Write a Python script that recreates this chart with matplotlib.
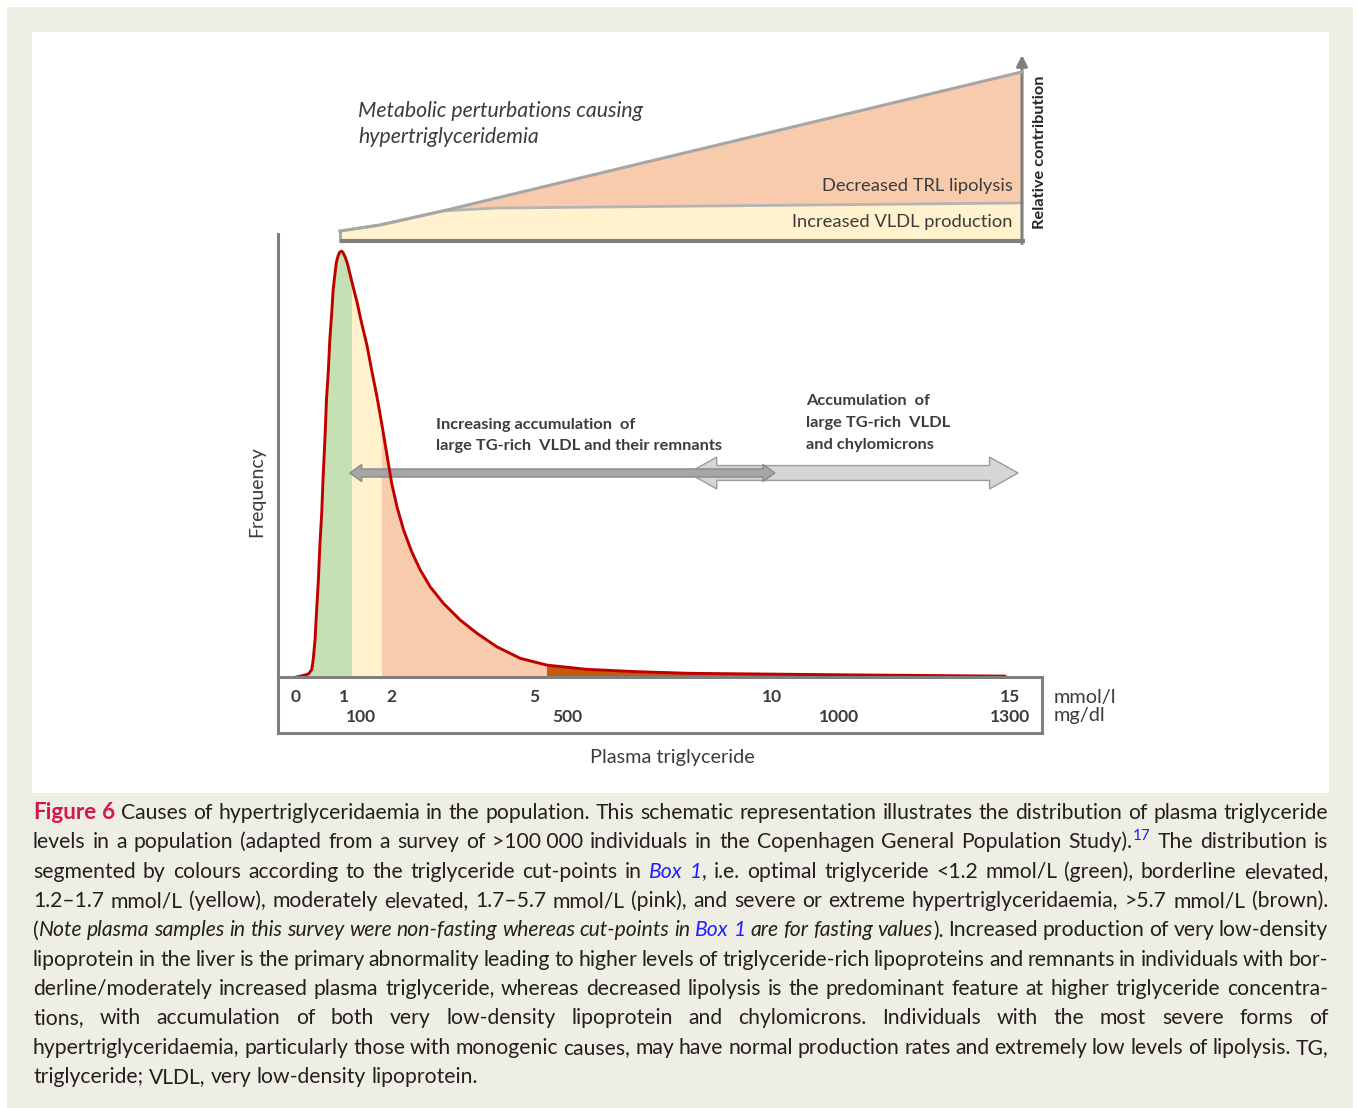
import matplotlib
matplotlib.use('Agg')
import matplotlib.pyplot as plt
from matplotlib.patches import Rectangle, Polygon

plt.rcParams['font.family'] = ['Lato', 'DejaVu Sans']

W, H = 1358, 1108

# distribution of plasma TG (mmol/l) vs relative frequency (peak = 100)
tg_mmol = [0, 0.10, 0.26, 0.33, 0.36, 0.40, 0.43, 0.47, 0.50, 0.54, 0.57, 0.61,
           0.64, 0.68, 0.71, 0.75, 0.78, 0.82, 0.85, 0.89, 0.92, 0.96, 0.99,
           1.03, 1.08, 1.13, 1.20, 1.28, 1.38, 1.49, 1.59, 1.70, 1.80, 1.87,
           1.94, 2.01, 2.12, 2.26, 2.43, 2.61, 2.82, 3.10, 3.45, 3.80, 4.22,
           4.71, 5.27, 6.11, 7.16, 8.28, 11.6, 14.9]
freq = [0, 0.2, 0.7, 1.7, 4.0, 8.7, 15.0, 22.8, 30.7, 38.5, 47.1, 56.5,
        65.2, 72.2, 79.3, 85.6, 91.1, 95.0, 97.7, 99.3, 100, 100.2, 99.8,
        98.9, 97.3, 95.0, 91.8, 88.3, 83.2, 78.1, 72.2, 66.0, 59.7, 55.0,
        50.3, 45.6, 40.1, 34.6, 29.5, 25.2, 21.2, 17.3, 13.4, 10.3, 7.1,
        4.4, 2.8, 1.8, 1.25, 0.86, 0.5, 0.2]

# colour bands (cut-points as drawn, mmol/l)
band_edges = [0, 1.17, 1.80, 5.27, 15.0]
band_colors = ['#c5e0b3', '#fff2cc', '#f8cbad', '#c55a11']

# axis labels inside the box
mmol_ticks = [0, 1, 2, 5, 10, 15]
mgdl_labels = ['100', '500', '1000', '1300']
mgdl_pos = [1.37, 5.7, 11.4, 15.0]

# top schematic: relative contribution along TG axis (0..1)
top_x = [0, 0.059, 0.151, 1.0]
top_y = [5.9, 9.5, 17.8, 100]
vldl_x = [0, 0.059, 0.151, 0.230, 1.0]
vldl_y = [5.9, 9.5, 17.8, 19.5, 22.5]

txt = '#3c3c3c'
gray = '#7f7f7f'


def fx(x):
    return x / W


def fy(y):
    return 1 - y / H


fig = plt.figure(figsize=(W / 100, H / 100), dpi=100)
fig.patch.set_facecolor('white')
fig.patches.append(Rectangle((fx(7), 0), fx(1353) - fx(7), fy(7), transform=fig.transFigure,
                             facecolor='#efeee4', edgecolor='none', zorder=-10))
fig.patches.append(Rectangle((fx(32), fy(793)), fx(1329) - fx(32), fy(32) - fy(793),
                             transform=fig.transFigure, facecolor='white', edgecolor='none', zorder=-9))

# ---- main distribution plot
xlim = ((278 - 296) / 47.6, (1042 - 296) / 47.6)
ax = fig.add_axes([fx(278), fy(677), (1042 - 278) / W, (677 - 234) / H])
ax.set_xlim(xlim)
ax.set_ylim(0, (677 - 234) / 4.25)
ax.patch.set_alpha(0)
for s in ['top', 'right', 'bottom']:
    ax.spines[s].set_visible(False)
ax.spines['left'].set_color(gray)
ax.spines['left'].set_linewidth(2.2)
ax.set_xticks([])
ax.set_yticks([])

for lo, hi, c in zip(band_edges[:-1], band_edges[1:], band_colors):
    poly = ax.fill_between(tg_mmol, 0, freq, color=c, lw=0, zorder=1)
    clip = Rectangle((lo, 0), hi - lo, 200, transform=ax.transData)
    poly.set_clip_path(clip)


def double_arrow(ax, x0, x1, y, sw, hw, hl, fc, ec, z):
    pts = [(x0, y), (x0 + hl, y + hw / 2), (x0 + hl, y + sw / 2), (x1 - hl, y + sw / 2),
           (x1 - hl, y + hw / 2), (x1, y), (x1 - hl, y - hw / 2), (x1 - hl, y - sw / 2),
           (x0 + hl, y - sw / 2), (x0 + hl, y - hw / 2)]
    ax.add_patch(Polygon(pts, closed=True, facecolor=fc, edgecolor=ec, lw=1, zorder=z))


double_arrow(ax, 8.24, 15.17, 48.0, 3.5, 7.5, 0.6, '#d6d6d6', '#9c9c9c', 2)
double_arrow(ax, 1.13, 10.06, 48.0, 1.9, 4.0, 0.25, '#a6a6a6', '#8a8a8a', 3)

ax.plot(tg_mmol, freq, color='#c00000', lw=2.1, zorder=4, solid_capstyle='round')

# ---- box with TG scale
axb = fig.add_axes([fx(278), fy(733), (1042 - 278) / W, (733 - 677) / H])
axb.set_xlim(xlim)
axb.set_ylim(0, 1)
axb.set_xticks([])
axb.set_yticks([])
axb.patch.set_alpha(0)
for s in axb.spines.values():
    s.set_color(gray)
    s.set_linewidth(2.2)
for t in mmol_ticks:
    axb.text(t, 0.64, str(t), ha='center', va='center', fontsize=12.5,
             fontweight='bold', color=txt)
for lab, p in zip(mgdl_labels, mgdl_pos):
    axb.text(p, 0.28, lab, ha='center', va='center', fontsize=12.5,
             fontweight='bold', color=txt)

fig.text(fx(1054), fy(697), 'mmol/l', ha='left', va='center', fontsize=14.3, color=txt)
fig.text(fx(1054), fy(716), 'mg/dl', ha='left', va='center', fontsize=14.3, color=txt)
fig.text(fx(672), fy(758), 'Plasma triglyceride', ha='center', va='center', fontsize=14.3, color=txt)
fig.text(fx(257), fy(492), 'Frequency', ha='center', va='center', rotation=90, fontsize=14, color=txt)

fig.text(fx(436), fy(425), 'Increasing accumulation  of', ha='left', va='center',
         fontsize=11.8, fontweight='bold', color=txt)
fig.text(fx(436), fy(446), 'large TG-rich  VLDL and their remnants', ha='left', va='center',
         fontsize=11.8, fontweight='bold', color=txt)
for i, line in enumerate(['Accumulation  of', 'large TG-rich  VLDL', 'and chylomicrons']):
    fig.text(fx(806), fy(401 + 22 * i), line, ha='left', va='center',
             fontsize=11.8, fontweight='bold', color=txt)

# ---- top schematic
axt = fig.add_axes([fx(340), fy(241), (1022 - 340) / W, (241 - 55) / H])
axt.set_xlim(0, 1)
axt.set_ylim(0, 110)
axt.axis('off')
axt.fill_between(top_x, 0, top_y, color='#f8cbad', lw=0, zorder=1)
axt.fill_between(vldl_x, 0, vldl_y, color='#fff2cc', lw=0, zorder=2)
axt.plot(vldl_x, vldl_y, color='#b4b4b4', lw=2.0, zorder=3, clip_on=False)
axt.plot(top_x, top_y, color='#a6a6a6', lw=2.2, zorder=4, clip_on=False)
axt.plot([0, 0], [0, top_y[0]], color='#a6a6a6', lw=2.0, zorder=4, clip_on=False)
axt.plot([0, 1.004], [0, 0], color=gray, lw=3.0, zorder=5, clip_on=False, solid_capstyle='butt')
axt.annotate('', xy=(1.0, 110), xytext=(1.0, -1.5),
             arrowprops=dict(arrowstyle='-|>', color=gray, lw=2.2, mutation_scale=16,
                             shrinkA=0, shrinkB=0), annotation_clip=False)

fig.text(fx(358), fy(111), 'Metabolic perturbations causing', ha='left', va='center',
         fontsize=15.3, style='italic', color=txt)
fig.text(fx(358), fy(137), 'hypertriglyceridemia', ha='left', va='center',
         fontsize=15.3, style='italic', color=txt)
fig.text(fx(1013), fy(186), 'Decreased TRL lipolysis', ha='right', va='center',
         fontsize=13.2, color=txt)
fig.text(fx(1012), fy(222), 'Increased VLDL production', ha='right', va='center',
         fontsize=13.2, color=txt)
fig.text(fx(1040), fy(152), 'Relative contribution', ha='center', va='center', rotation=90,
         fontsize=11.8, fontweight='bold', color='#262626')

# ---- caption (justified)
cap_size = 15.2
styles = {
    'n': dict(color='#231f20'),
    'fig': dict(color='#d4174e', fontweight='bold', fontsize=cap_size + 1),
    'i': dict(color='#231f20', style='italic'),
    'link': dict(color='#1f1fff', style='italic'),
    'sup': dict(color='#1f1fff', fontsize=cap_size * 0.72),
}

caption = [
    [('Figure 6 ', 'fig'), ('Causes of hypertriglyceridaemia in the population. This schematic representation '
                            'illustrates the distribution of plasma triglyceride', 'n')],
    [('levels in a population (adapted from a survey of >100\u00a0000 individuals in the Copenhagen '
      'General Population Study).', 'n'), ('17', 'sup'), (' The distribution is', 'n')],
    [('segmented by colours according to the triglyceride cut-points in ', 'n'), ('Box 1', 'link'),
     (', i.e. optimal triglyceride <1.2 mmol/L (green), borderline elevated,', 'n')],
    [('1.2\u20131.7 mmol/L (yellow), moderately elevated, 1.7\u20135.7 mmol/L (pink), and severe or '
      'extreme hypertriglyceridaemia, >5.7 mmol/L (brown).', 'n')],
    [('(', 'n'), ('Note plasma samples in this survey were non-fasting whereas cut-points in ', 'i'),
     ('Box 1', 'link'), (' are for fasting values', 'i'),
     ('). Increased production of very low-density', 'n')],
    [('lipoprotein in the liver is the primary abnormality leading to higher levels of '
      'triglyceride-rich lipoproteins and remnants in individuals with bor-', 'n')],
    [('derline/moderately increased plasma triglyceride, whereas decreased lipolysis is the '
      'predominant feature at higher triglyceride concentra-', 'n')],
    [('tions, with accumulation of both very low-density lipoprotein and chylomicrons. '
      'Individuals with the most severe forms of', 'n')],
    [('hypertriglyceridaemia, particularly those with monogenic causes, may have normal '
      'production rates and extremely low levels of lipolysis. TG,', 'n')],
    [('triglyceride; VLDL, very low-density lipoprotein.', 'n')],
]

renderer = fig.canvas.get_renderer()


def write_line(y, segs, justify=True, left=33, right=1328):
    tokens = []
    new_word = True
    for text, st in segs:
        for i, p in enumerate(text.split(' ')):
            if i > 0:
                new_word = True
            if p == '':
                continue
            if new_word or not tokens:
                tokens.append([(p, st)])
            else:
                tokens[-1].append((p, st))
            new_word = False
    objs = []
    widths = []
    for tok in tokens:
        parts = []
        w = 0
        for p, st in tok:
            kw = dict(fontsize=cap_size)
            kw.update(styles[st])
            t = fig.text(0, 0, p, ha='left', va='baseline', **kw)
            pw = t.get_window_extent(renderer).width
            parts.append((t, w, st))
            w += pw
        objs.append(parts)
        widths.append(w)
    space = fig.text(0, 0, 'a a', fontsize=cap_size).get_window_extent(renderer).width - \
        fig.text(0, 0, 'aa', fontsize=cap_size).get_window_extent(renderer).width
    for t in fig.texts[-2:]:
        t.remove()
    if justify and len(tokens) > 1:
        gap = (right - left - sum(widths)) / (len(tokens) - 1)
    else:
        gap = space
    x = left
    for parts, w in zip(objs, widths):
        for t, off, st in parts:
            yy = y - 8 if st == 'sup' else y
            t.set_position((fx(x + off), fy(yy)))
        x += w + gap


for k, segs in enumerate(caption):
    write_line(819 + 29.35 * k, segs, justify=(k < len(caption) - 1))

plt.savefig('out.png', dpi=100)
